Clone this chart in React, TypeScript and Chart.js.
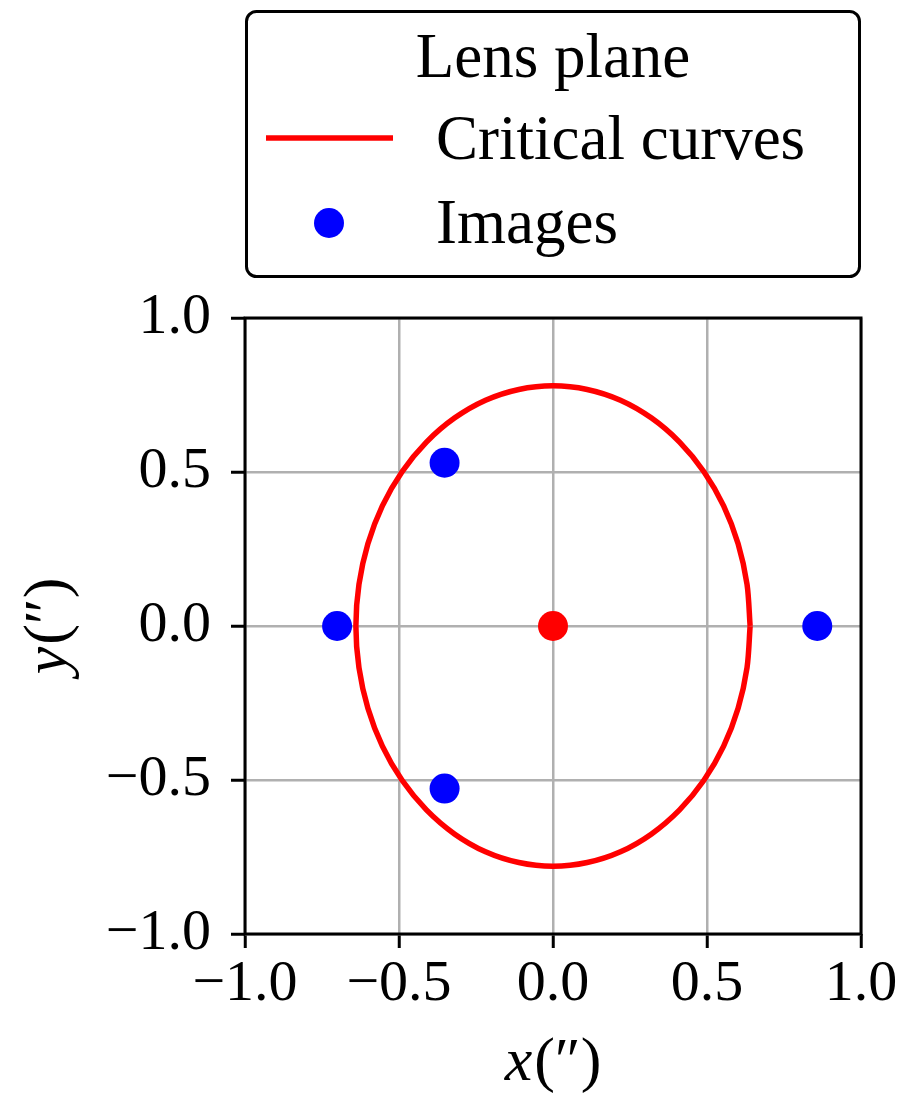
import React, { useEffect, useRef } from 'react';
import { Chart, registerables } from 'chart.js';

Chart.register(...registerables);

// ---- data ----
const tickValues = [-1, -0.5, 0, 0.5, 1];

// critical curve (closed loop)
const critX = [
  0.640, 0.630, 0.601, 0.554, 0.490, 0.411, 0.320, 0.219, 0.111, 0.000,
  -0.111, -0.219, -0.320, -0.411, -0.490, -0.554, -0.601, -0.630, -0.640,
  -0.630, -0.601, -0.554, -0.490, -0.411, -0.320, -0.219, -0.111, 0.000,
  0.111, 0.219, 0.320, 0.411, 0.490, 0.554, 0.601, 0.630, 0.640,
];
const critY = [
  0.000, 0.135, 0.267, 0.390, 0.501, 0.597, 0.675, 0.733, 0.768, 0.780,
  0.768, 0.733, 0.675, 0.597, 0.501, 0.390, 0.267, 0.135, 0.000,
  -0.135, -0.267, -0.390, -0.501, -0.597, -0.675, -0.733, -0.768, -0.780,
  -0.768, -0.733, -0.675, -0.597, -0.501, -0.390, -0.267, -0.135, 0.000,
];

const imageX = [-0.352, -0.701, -0.352, 0.858];
const imageY = [0.530, 0.000, -0.528, 0.000];

const lensX = [0.0];
const lensY = [0.0];

const legendTitle = 'Lens plane';
const curveLabel = 'Critical curves';
const imageLabel = 'Images';
const legendLabels = [curveLabel, imageLabel];
const xTitleParts = ['x', '(\u2033)'];
const yTitleParts = ['y', '(\u2033)'];

const SERIF = '"Liberation Serif", "Times New Roman", serif';

function fmt(v: number): string {
  const s = Math.abs(v).toFixed(1);
  return v < -1e-9 ? '\u2212' + s : s;
}

function drawTitle(ctx: CanvasRenderingContext2D, parts: string[], size: number) {
  ctx.font = `italic ${size}px ${SERIF}`;
  const w0 = ctx.measureText(parts[0]).width;
  ctx.font = `${size}px ${SERIF}`;
  const w1 = ctx.measureText(parts[1]).width;
  const total = w0 + w1 + 2;
  let x = -total / 2;
  ctx.textAlign = 'left';
  ctx.textBaseline = 'alphabetic';
  ctx.font = `italic ${size}px ${SERIF}`;
  ctx.fillText(parts[0], x, 0);
  x += w0 + 2;
  ctx.font = `${size}px ${SERIF}`;
  ctx.fillText(parts[1], x, 0);
}

const framePlugin = {
  id: 'frame',
  afterDatasetsDraw(chart: any) {
    const { ctx, chartArea: a } = chart;
    ctx.save();
    ctx.strokeStyle = '#000';
    ctx.lineWidth = 3;
    ctx.strokeRect(a.left, a.top, a.right - a.left, a.bottom - a.top);
    ctx.restore();
  },
};

const titlesPlugin = {
  id: 'axisTitles',
  afterDraw(chart: any) {
    const { ctx, chartArea: a } = chart;
    ctx.save();
    ctx.fillStyle = '#000';
    ctx.translate((a.left + a.right) / 2, 1080);
    drawTitle(ctx, xTitleParts, 62);
    ctx.restore();

    ctx.save();
    ctx.fillStyle = '#000';
    ctx.translate(66, (a.top + a.bottom) / 2);
    ctx.rotate(-Math.PI / 2);
    drawTitle(ctx, yTitleParts, 62);
    ctx.restore();
  },
};

const legendPlugin = {
  id: 'boxLegend',
  afterDraw(chart: any) {
    const { ctx, chartArea: a } = chart;
    const ds = chart.data.datasets;
    const left = a.left;
    const right = a.right;
    const top = 10;
    const bottom = 278;
    ctx.save();
    ctx.beginPath();
    ctx.roundRect(left + 1.5, top + 1.5, right - left - 3, bottom - top - 3, 10);
    ctx.fillStyle = '#fff';
    ctx.fill();
    ctx.lineWidth = 3;
    ctx.strokeStyle = '#000';
    ctx.stroke();

    ctx.fillStyle = '#000';
    ctx.font = `63px ${SERIF}`;
    ctx.textBaseline = 'alphabetic';
    ctx.textAlign = 'center';
    ctx.fillText(legendTitle, (left + right) / 2, 77);

    const rows = [159, 243];
    const centers = [138, 223];
    legendLabels.forEach((label, i) => {
      const d = ds.find((x: any) => x.label === label);
      if (!d) return;
      if (d.showLine) {
        ctx.strokeStyle = d.borderColor;
        ctx.lineWidth = d.borderWidth;
        ctx.beginPath();
        ctx.moveTo(left + 21, centers[i]);
        ctx.lineTo(left + 148, centers[i]);
        ctx.stroke();
      } else {
        ctx.fillStyle = d.backgroundColor;
        ctx.beginPath();
        ctx.arc(left + 84, centers[i], d.pointRadius, 0, Math.PI * 2);
        ctx.fill();
      }
      ctx.fillStyle = '#000';
      ctx.textAlign = 'left';
      ctx.font = `63px ${SERIF}`;
      ctx.fillText(label, left + 191, rows[i]);
    });
    ctx.restore();
  },
};

export default function App() {
  const ref = useRef<HTMLCanvasElement | null>(null);

  useEffect(() => {
    if (!ref.current) return;
    const toPts = (xs: number[], ys: number[]) => xs.map((x, i) => ({ x, y: ys[i] }));
    const axisCommon = (axis: 'x' | 'y') => ({
      type: 'linear' as const,
      min: -1,
      max: 1,
      afterBuildTicks: (s: any) => {
        s.ticks = tickValues.map((v) => ({ value: v }));
      },
      afterFit: (s: any) => {
        if (axis === 'y') {
          s.width = 245;
          s.paddingTop = 0;
          s.paddingBottom = 0;
        } else {
          s.height = 161;
          s.paddingLeft = 0;
          s.paddingRight = 0;
        }
      },
      grid: {
        color: '#b0b0b0',
        lineWidth: 2.5,
        tickColor: '#000',
        tickLength: 14,
        tickWidth: 3,
        drawTicks: true,
      },
      border: { display: false },
      ticks: {
        color: '#000',
        font: { family: SERIF, size: 58 },
        padding: axis === 'y' ? 20 : 2,
        maxRotation: 0,
        autoSkip: false,
        callback: (v: any) => fmt(Number(v)),
      },
      title: { display: false },
    });

    const chart = new Chart(ref.current, {
      type: 'scatter',
      data: {
        datasets: [
          {
            label: imageLabel,
            data: toPts(imageX, imageY),
            backgroundColor: '#0000ff',
            borderWidth: 0,
            pointRadius: 15,
            pointHoverRadius: 15,
            showLine: false,
          },
          {
            label: 'Lens center',
            data: toPts(lensX, lensY),
            backgroundColor: '#ff0000',
            borderWidth: 0,
            pointRadius: 15,
            pointHoverRadius: 15,
            showLine: false,
          },
          {
            label: curveLabel,
            data: toPts(critX, critY),
            borderColor: '#ff0000',
            backgroundColor: '#ff0000',
            borderWidth: 5.5,
            pointRadius: 0,
            pointHoverRadius: 0,
            showLine: true,
            tension: 0.3,
            fill: false,
          },
        ],
      },
      options: {
        animation: false,
        responsive: false,
        maintainAspectRatio: false,
        layout: { padding: { top: 318, right: 37, left: 0, bottom: 0 } },
        plugins: {
          legend: { display: false },
          tooltip: { enabled: false },
        },
        scales: {
          x: axisCommon('x'),
          y: axisCommon('y'),
        },
      },
      plugins: [framePlugin, titlesPlugin, legendPlugin],
    });
    return () => chart.destroy();
  }, []);

  return (
    <div style={{ position: 'absolute', left: 0, top: 0, width: 898, height: 1095, background: '#fff' }}>
      <canvas ref={ref} width={898} height={1095} style={{ width: 898, height: 1095, display: 'block' }} />
    </div>
  );
}
